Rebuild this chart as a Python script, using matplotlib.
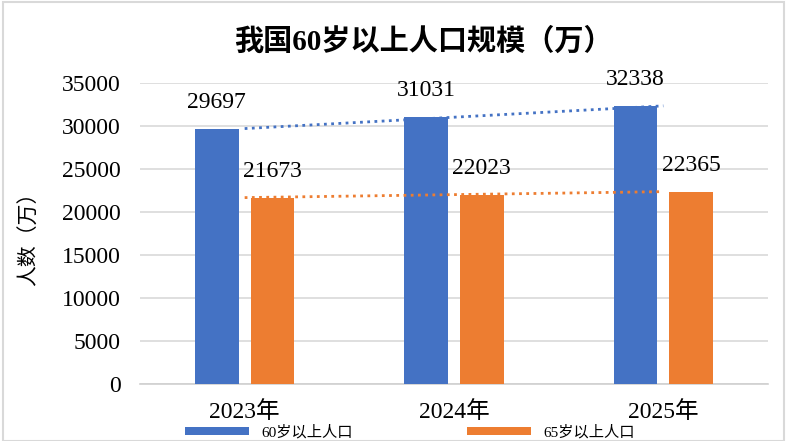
import numpy as np
import matplotlib.pyplot as plt
from matplotlib.patches import Rectangle

# data
years = ['2023年', '2024年', '2025年']
pop_60 = [29697, 31031, 32338]
pop_65 = [21673, 22023, 22365]
legend_labels = ['60岁以上人口', '65岁以上人口']
yticks = [0, 5000, 10000, 15000, 20000, 25000, 30000, 35000]

plt.rcParams['font.family'] = ['Liberation Serif', 'Noto Sans CJK SC', 'DejaVu Sans']

blue = '#4472C4'
orange = '#ED7D31'

fig = plt.figure(figsize=(7.87, 4.41), dpi=100)
ax = fig.add_axes([140 / 787, 57 / 441, 628 / 787, 301 / 441])

x = np.arange(len(years))
w = 0.21
off = 0.133

b1 = ax.bar(x - off, pop_60, w, color=blue, label=legend_labels[0], zorder=3)
b2 = ax.bar(x + off, pop_65, w, color=orange, label=legend_labels[1], zorder=3)

# linear trendlines, dotted like the excel ones
for vals, c in [(pop_60, blue), (pop_65, orange)]:
    k, b = np.polyfit(x, vals, 1)
    ax.plot(x, k * x + b, color=c, lw=2, linestyle=(0, (1, 1.6)), zorder=4)

# data labels
for bars, vals in [(b1, pop_60), (b2, pop_65)]:
    for r, v in zip(bars, vals):
        ax.annotate(str(v), (r.get_x() + r.get_width() / 2, v),
                    xytext=(0, 19), textcoords='offset points',
                    ha='center', va='center', fontsize=17, zorder=5)

ax.set_xlim(-0.5, 2.5)
ax.set_ylim(0, 35000)
ax.set_yticks(yticks)
ax.set_xticks(x)
ax.set_xticklabels(years)
ax.tick_params(axis='both', length=0, labelsize=17)
ax.tick_params(axis='y', pad=14)
ax.tick_params(axis='x', pad=12)
ax.grid(axis='y', color='#d9d9d9', lw=1.2, zorder=0)

for s in ['top', 'right', 'left']:
    ax.spines[s].set_visible(False)
ax.spines['bottom'].set_color('#d0d0d0')
ax.spines['bottom'].set_linewidth(1.2)

ax.set_ylabel('人数（万）', fontsize=15)
ax.yaxis.set_label_coords(-0.159, 0.5)

fig.text(423 / 787, 1 - 42 / 441, '我国60岁以上人口规模（万）',
         ha='center', va='center', fontsize=21, fontweight='bold')

# legend squeezed into the strip at the bottom edge
fig.legend(loc='center', bbox_to_anchor=(410 / 787, 1 - 432 / 441), ncol=2,
           frameon=False, fontsize=11, handlelength=4.2, handleheight=0.45,
           columnspacing=7.5, borderaxespad=0, borderpad=0)

# light grey chart border
fig.patches.append(Rectangle((0.004, 0.0), 0.992, 0.995, transform=fig.transFigure,
                             fill=False, edgecolor='#d9d9d9', lw=1.5))

fig.savefig('out.png', dpi=100)
